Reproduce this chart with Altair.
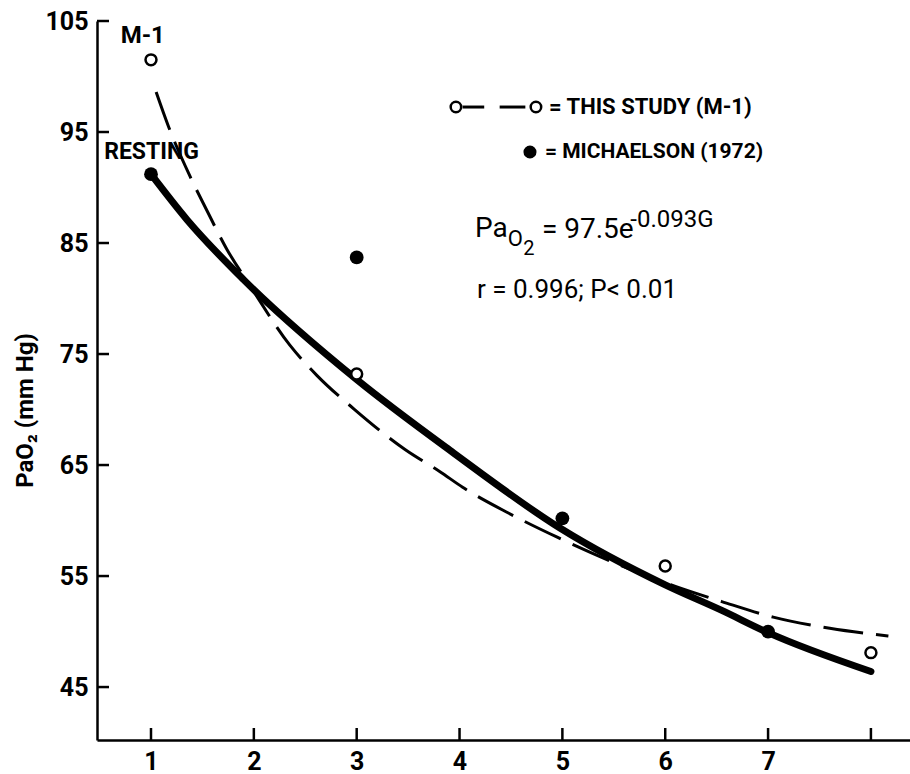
import altair as alt
import pandas as pd

# Arterial PO2 (mm Hg) against sustained +Gz load
study_g = [1, 3, 6, 8]
study_pao2 = [101.5, 73.2, 55.9, 48.1]

michaelson_g = [1, 3, 5, 7]
michaelson_pao2 = [91.2, 83.7, 60.2, 50.0]

# Heavy curve: exponential fit PaO2 = 97.5 e^(-0.093 G)
fit_g = [1.0, 1.35, 1.9, 3.0, 3.94, 4.98, 6.0, 6.55, 7.0, 8.0]
fit_pao2 = [91.2, 87.1, 81.7, 72.7, 66.1, 59.3, 54.2, 51.9, 49.9, 46.4]

# Dashed curve drawn through this study's values
dash_g = [1.05, 1.17, 1.38, 1.54, 1.74, 1.96, 2.35, 2.61, 2.98, 3.47,
          3.81, 4.03, 4.47, 4.95, 6.12, 6.55, 7.05, 7.6, 8.17]
dash_pao2 = [98.6, 95.5, 91.0, 88.0, 84.4, 81.2, 75.8, 73.1, 70.0, 66.4,
             64.4, 63.0, 60.7, 58.5, 54.0, 52.7, 51.3, 50.3, 49.6]

x_ticks = [1, 2, 3, 4, 5, 6, 7, 8]
y_ticks = [45, 55, 65, 75, 85, 95, 105]

FONT = "Roboto"
W, H = 813, 719

xs = alt.Scale(domain=[0.475, 8.38], nice=False, zero=False)
ys = alt.Scale(domain=[40.23, 105], nice=False, zero=False)

x_axis = alt.Axis(
    values=x_ticks, ticks=False, grid=False, title=None,
    labelExpr="datum.value == 8 ? '' : datum.label",
    labelFont=FONT, labelFontSize=25, labelFontWeight="bold",
    labelColor="black", labelPadding=9,
    domainColor="black", domainWidth=2.5)
y_axis = alt.Axis(
    values=y_ticks, ticks=False, grid=False,
    title="PaO₂ (mm Hg)", titleFont=FONT, titleFontSize=24,
    titleFontWeight="bold", titleColor="black", titleAngle=270,
    titleAlign="center", titleBaseline="middle", titleX=-72, titleY=389,
    labelFont=FONT, labelFontSize=25, labelFontWeight="bold",
    labelColor="black", labelPadding=9,
    domainColor="black", domainWidth=2.5)


def X(field="g"):
    return alt.X(f"{field}:Q", scale=xs, axis=x_axis)


def Y(field="p"):
    return alt.Y(f"{field}:Q", scale=ys, axis=y_axis)


study = pd.DataFrame({"g": study_g, "p": study_pao2})
mich = pd.DataFrame({"g": michaelson_g, "p": michaelson_pao2})
fit = pd.DataFrame({"g": fit_g, "p": fit_pao2})
dash = pd.DataFrame({"g": dash_g, "p": dash_pao2})

# Inward tick marks
ytick = alt.Chart(pd.DataFrame({"p": y_ticks})).mark_rule(
    color="black", strokeWidth=2.5).encode(
    y=Y(), x=alt.value(0), x2=alt.value(12))
xtick = alt.Chart(pd.DataFrame({"g": x_ticks})).mark_rule(
    color="black", strokeWidth=2.5).encode(
    x=X(), y=alt.value(H), y2=alt.value(H - 12))

dash_line = alt.Chart(dash).mark_line(
    color="black", strokeWidth=3, strokeDash=[40, 13], interpolate="monotone").encode(
    x=X(), y=Y(), order="g:Q")
fit_line = alt.Chart(fit).mark_line(
    color="black", strokeWidth=7, strokeCap="round", interpolate="monotone").encode(
    x=X(), y=Y(), order="g:Q")

open_pts = alt.Chart(study).mark_point(
    shape="circle", size=120, filled=True, fill="white", stroke="black",
    strokeWidth=2.5, opacity=1).encode(x=X(), y=Y())
filled_pts = alt.Chart(mich).mark_point(
    shape="circle", size=190, filled=True, color="black", opacity=1).encode(x=X(), y=Y())

# Key in the upper right
key_open = alt.Chart(pd.DataFrame({"g": [3.965, 4.743], "p": [97.25, 97.25]})).mark_point(
    shape="circle", size=110, filled=True, fill="white", stroke="black",
    strokeWidth=2.5, opacity=1).encode(x=X(), y=Y())
key_dash = alt.Chart(pd.DataFrame({"g": [4.03, 4.39], "g2": [4.24, 4.64], "p": [97.25, 97.25]})).mark_rule(
    color="black", strokeWidth=3).encode(x=X(), x2="g2:Q", y=Y())
key_fill = alt.Chart(pd.DataFrame({"g": [4.685], "p": [93.2]})).mark_point(
    shape="circle", size=170, filled=True, color="black", opacity=1).encode(x=X(), y=Y())


def label(g, p, text, size, weight="bold", align="left"):
    return alt.Chart(pd.DataFrame({"g": [g], "p": [p], "t": [text]})).mark_text(
        font=FONT, fontSize=size, fontWeight=weight, align=align,
        baseline="middle", color="black").encode(x=X(), y=Y(), text="t:N")


texts = [
    label(0.92, 103.65, "M-1", 24, align="center"),
    label(0.545, 93.2, "RESTING", 23),
    label(4.87, 97.25, "= THIS STUDY (M-1)", 22),
    label(4.83, 93.2, "= MICHAELSON (1972)", 21),
    label(4.150, 86.26, "Pa", 28, weight="normal"),
    label(4.470, 85.36, "O", 22, weight="normal"),
    label(4.620, 84.45, "2", 20, weight="normal"),
    label(4.801, 86.17, "= 97.5e", 28, weight="normal"),
    label(5.66, 87.1, "-0.093G", 24, weight="normal"),
    label(4.17, 80.77, "r = 0.996; P< 0.01", 26, weight="normal"),
]

chart = alt.layer(
    ytick, xtick, dash_line, fit_line, open_pts, filled_pts,
    key_dash, key_open, key_fill, *texts,
).properties(
    width=W, height=H,
    padding={"left": 97, "top": 21, "right": 0, "bottom": 34},
    autosize=alt.AutoSizeParams(type="none"),
    background="white",
).configure_view(stroke=None)

chart.save("out.html", embed_options={"renderer": "svg", "actions": False})
